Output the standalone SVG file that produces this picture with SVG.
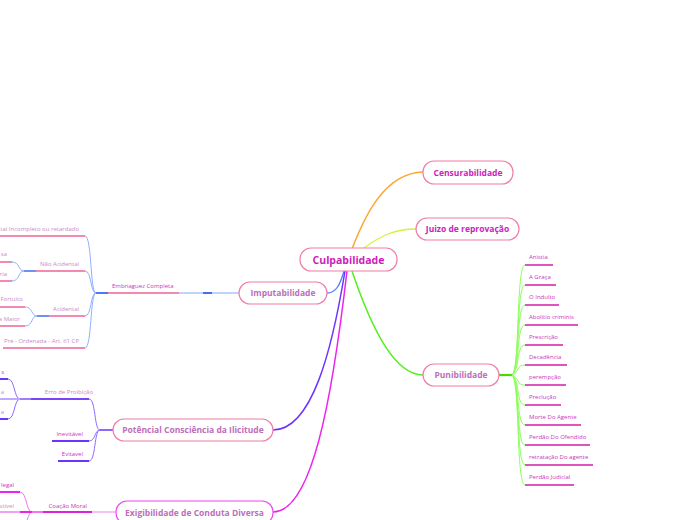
<svg xmlns="http://www.w3.org/2000/svg" width="696" height="520" viewBox="0 0 696 520">
<style>
.node{fill:#fff;stroke:#f07fa6;stroke-width:1.2}
.t1{font-family:"Open Sans",sans-serif;font-weight:bold;fill:#cc22bb;text-anchor:middle}
.t2{font-family:"Open Sans",sans-serif;font-weight:bold;fill:#bb6fbb;text-anchor:middle;font-size:8.5px}
.s{font-family:"Open Sans",sans-serif;font-size:6px}
.m{fill:#cc33bb}
.l{fill:#c98ac9}
.ul{stroke:#e055bb;stroke-width:2;fill:none}
.ulp{stroke:#f08ab0;stroke-width:2;fill:none}
.c{fill:none}
</style>
<rect width="696" height="520" fill="#fff"/>
<g id="connectors">
  <path class="c" d="M352,249 C365,215 385,173 423,172" stroke="#ffa42e" stroke-width="1.5"/>
  <path class="c" d="M364,248 C380,236 395,229 416,229" stroke="#d4f23a" stroke-width="1.3"/>
  <path class="c" d="M344,271 C340,285 336,293 327,293" stroke="#4f7dff" stroke-width="1.3"/>
  <path class="c" d="M345,271 C332,350 312,430 273,430" stroke="#6a35ff" stroke-width="1.5"/>
  <path class="c" d="M347,271 C332,400 312,512 273,512" stroke="#ee22ee" stroke-width="1.5"/>
  <path class="c" d="M352,271 C372,330 395,375 423,375" stroke="#55ee22" stroke-width="1.5"/>
  <!-- Imputabilidade branch -->
  <path class="c" d="M239,293 H179" stroke="#aac4ff" stroke-width="1.3"/>
  <path class="c" d="M203,293 H212" stroke="#2255ee" stroke-width="1.6"/>
  <path class="c" d="M96,293 H108" stroke="#2255ee" stroke-width="1.6"/>
  <g stroke="#8fb0ff" stroke-width="1" fill="none">
    <path d="M85,236 C92,236 90,293 96,293"/>
    <path d="M85,271 C92,271 90,293 96,293"/>
    <path d="M85,316 C92,316 90,293 96,293"/>
    <path d="M85,348 C92,348 90,293 96,293"/>
    <path d="M12,262 C20,262 18,271 24,271"/>
    <path d="M12,281 C20,281 18,271 24,271"/>
    <path d="M25,307 C33,307 31,316 37,316"/>
    <path d="M25,326 C33,326 31,316 37,316"/>
  </g>
  <path class="c" d="M24,271 H36" stroke="#2255ee" stroke-width="1.3"/>
  <path class="c" d="M37,316 H49" stroke="#2255ee" stroke-width="1.3"/>
  <!-- Potencial branch -->
  <path class="c" d="M100,430 H113" stroke="#6a35ff" stroke-width="1.5"/>
  <g stroke="#8f6aff" stroke-width="1" fill="none">
    <path d="M89,399 C96,399 94,430 100,430"/>
    <path d="M89,441 C96,441 94,430 100,430"/>
    <path d="M89,461 C96,461 94,430 100,430"/>
    <path d="M8,379 C15,379 14,399 20,399"/>
    <path d="M8,419 C15,419 14,399 20,399"/>
  </g>
  <path class="c" d="M0,399 H20" stroke="#c0a8ff" stroke-width="2"/>
  <path class="c" d="M20,399 H31" stroke="#6a35ff" stroke-width="1.3"/>
  <path class="c" d="M0,379 H8" stroke="#6a35ff" stroke-width="2"/>
  <path class="c" d="M0,419 H8" stroke="#6a35ff" stroke-width="2"/>
  <path class="c" d="M31,399 H89" stroke="#7a45f5" stroke-width="2"/>
  <path class="c" d="M52,441 H89" stroke="#6a35ff" stroke-width="2"/>
  <path class="c" d="M58,461 H89" stroke="#6a35ff" stroke-width="2"/>
  <!-- Exigibilidade branch -->
  <path class="c" d="M92,512 H116" stroke="#f2a0f2" stroke-width="1.3"/>
  <g stroke="#ee77ee" stroke-width="1" fill="none">
    <path d="M20,492 C27,492 26,512 32,512"/>
    <path d="M32,512 C28,512 27,525 22,530"/>
  </g>
  <path class="c" d="M0,492 H20" stroke="#ee22ee" stroke-width="2"/>
  <path class="c" d="M0,512 H20" stroke="#f2a0f2" stroke-width="2"/>
  <path class="c" d="M20,512 H32" stroke="#ee22ee" stroke-width="2"/>
  <path class="c" d="M32,512 H43" stroke="#ee22ee" stroke-width="1.3"/>
  <path class="c" d="M43,512 H92" stroke="#dd22dd" stroke-width="2"/>
  <!-- Punibilidade branch -->
  <path class="c" d="M499,375 H512" stroke="#44dd00" stroke-width="2.2"/>
  <g stroke="#8cff5c" stroke-width="1" fill="none">
    <path d="M512,375 C520,370 516,265 525,265"/>
    <path d="M512,375 C520,370 516,285 525,285"/>
    <path d="M512,375 C520,370 516,305 525,305"/>
    <path d="M512,375 C520,370 516,325 525,325"/>
    <path d="M512,375 C520,370 516,345 525,345"/>
    <path d="M512,375 C520,372 516,365 525,365"/>
    <path d="M512,375 C520,378 516,385 525,385"/>
    <path d="M512,375 C520,380 516,405 525,405"/>
    <path d="M512,375 C520,380 516,425 525,425"/>
    <path d="M512,375 C520,380 516,445 525,445"/>
    <path d="M512,375 C520,380 516,465 525,465"/>
    <path d="M512,375 C520,380 516,485 525,485"/>
  </g>
</g>
<g id="culpabilidade">
  <rect class="node" x="300" y="248" width="97" height="23" rx="11"/>
  <text class="t1" x="348.5" y="263.5" font-size="10.5">Culpabilidade</text>
</g>
<g id="censurabilidade">
  <rect class="node" x="423" y="161" width="90" height="23" rx="11"/>
  <text class="t1" x="468" y="175.5" font-size="8.5">Censurabilidade</text>
</g>
<g id="juizo">
  <rect class="node" x="416" y="218" width="103" height="22" rx="11"/>
  <text class="t1" x="467.5" y="232" font-size="8.5">Juizo de reprovação</text>
</g>
<g id="imputabilidade">
  <rect class="node" x="239" y="282" width="88" height="22" rx="11"/>
  <text class="t2" x="283" y="296">Imputabilidade</text>
</g>
<g id="potencial">
  <rect class="node" x="113" y="419" width="160" height="22" rx="11"/>
  <text class="t2" x="193" y="433">Potêncial Consciência da Ilicitude</text>
</g>
<g id="exigibilidade">
  <rect class="node" x="116" y="501" width="157" height="23" rx="11" style="stroke:#ee44ee"/>
  <text class="t2" x="194.5" y="515.5">Exigibilidade de Conduta Diversa</text>
</g>
<g id="punibilidade">
  <rect class="node" x="423" y="364" width="76" height="22" rx="11"/>
  <text class="t2" x="461" y="378">Punibilidade</text>
</g>
<g id="embriaguez">
  <path class="ulp" d="M108,293 H179"/>
  <text class="s m" x="112" y="287.5">Embriaguez Completa</text>
</g>
<g id="desenvolvimento">
  <path class="ulp" d="M0,236 H85"/>
  <text class="s l" x="79" y="230.5" text-anchor="end">tal Incompleto ou retardado</text>
</g>
<g id="nao-acidental">
  <path class="ulp" d="M36,271 H85"/>
  <text class="s l" x="79" y="265.5" text-anchor="end">Não Acidental</text>
</g>
<g id="na-1">
  <path class="ulp" d="M0,262 H12"/>
  <text class="s l" x="7" y="256" text-anchor="end">sa</text>
</g>
<g id="na-2">
  <path class="ulp" d="M0,281 H12"/>
  <text class="s l" x="7" y="275.5" text-anchor="end">ria</text>
</g>
<g id="acidental">
  <path class="ulp" d="M49,316 H85"/>
  <text class="s l" x="79" y="310.5" text-anchor="end">Acidental</text>
</g>
<g id="ac-1">
  <path class="ulp" d="M0,307 H25"/>
  <text class="s l" x="0.5" y="301">Fortuito</text>
</g>
<g id="ac-2">
  <path class="ulp" d="M0,326 H25"/>
  <text class="s l" x="20" y="320.5" text-anchor="end">a Maior</text>
</g>
<g id="preordenada">
  <path class="ulp" d="M3,348 H85"/>
  <text class="s l" x="79" y="343" text-anchor="end">Pré - Ordenada  - Art. 61 CP</text>
</g>
<g id="erro">
  <text class="s l" x="93" y="394" text-anchor="end">Erro de Proibição</text>
</g>
<g id="erro-1"><text class="s m" x="4" y="373.5" text-anchor="end">s</text></g>
<g id="erro-2"><text class="s l" x="4" y="394" text-anchor="end">a</text></g>
<g id="erro-3"><text class="s l" x="4" y="414" text-anchor="end">a</text></g>
<g id="inevitavel">
  <text class="s m" x="83" y="436" text-anchor="end">Inevitável</text>
</g>
<g id="evitavel">
  <text class="s m" x="83" y="456" text-anchor="end">Evitavel</text>
</g>
<g id="coacao">
  <text class="s m" x="87" y="507.5" text-anchor="end">Coação Moral</text>
</g>
<g id="co-1"><text class="s m" x="14" y="486.5" text-anchor="end">legal</text></g>
<g id="co-2"><text class="s l" x="14" y="507.5" text-anchor="end">stível</text></g>
<g id="punib-children" class="s m">
  <g id="anistia"><path class="ul" d="M525,265 H553"/><text x="529" y="259">Anistia</text></g>
  <g id="graca"><path class="ul" d="M525,285 H556"/><text x="529" y="279">A Graça</text></g>
  <g id="indulto"><path class="ul" d="M525,305 H559"/><text x="529" y="299">O Indulto</text></g>
  <g id="abolitio"><path class="ul" d="M525,325 H578"/><text x="529" y="319">Abolitio criminis</text></g>
  <g id="prescricao"><path class="ul" d="M525,345 H563"/><text x="529" y="339">Prescrição</text></g>
  <g id="decadencia"><path class="ul" d="M525,365 H567"/><text x="529" y="359">Decadência</text></g>
  <g id="perempcao"><path class="ul" d="M525,385 H566"/><text x="529" y="379">perempção</text></g>
  <g id="preclucao"><path class="ul" d="M525,405 H561"/><text x="529" y="399">Preclução</text></g>
  <g id="morte"><path class="ul" d="M525,425 H581"/><text x="529" y="419">Morte Do Agente</text></g>
  <g id="perdao-ofendido"><path class="ul" d="M525,445 H590"/><text x="529" y="439">Perdão Do Ofendido</text></g>
  <g id="retratacao"><path class="ul" d="M525,465 H593"/><text x="529" y="459">retratação Do agente</text></g>
  <g id="perdao-judicial"><path class="ul" d="M525,485 H574"/><text x="529" y="479">Perdão Judicial</text></g>
</g>
</svg>
